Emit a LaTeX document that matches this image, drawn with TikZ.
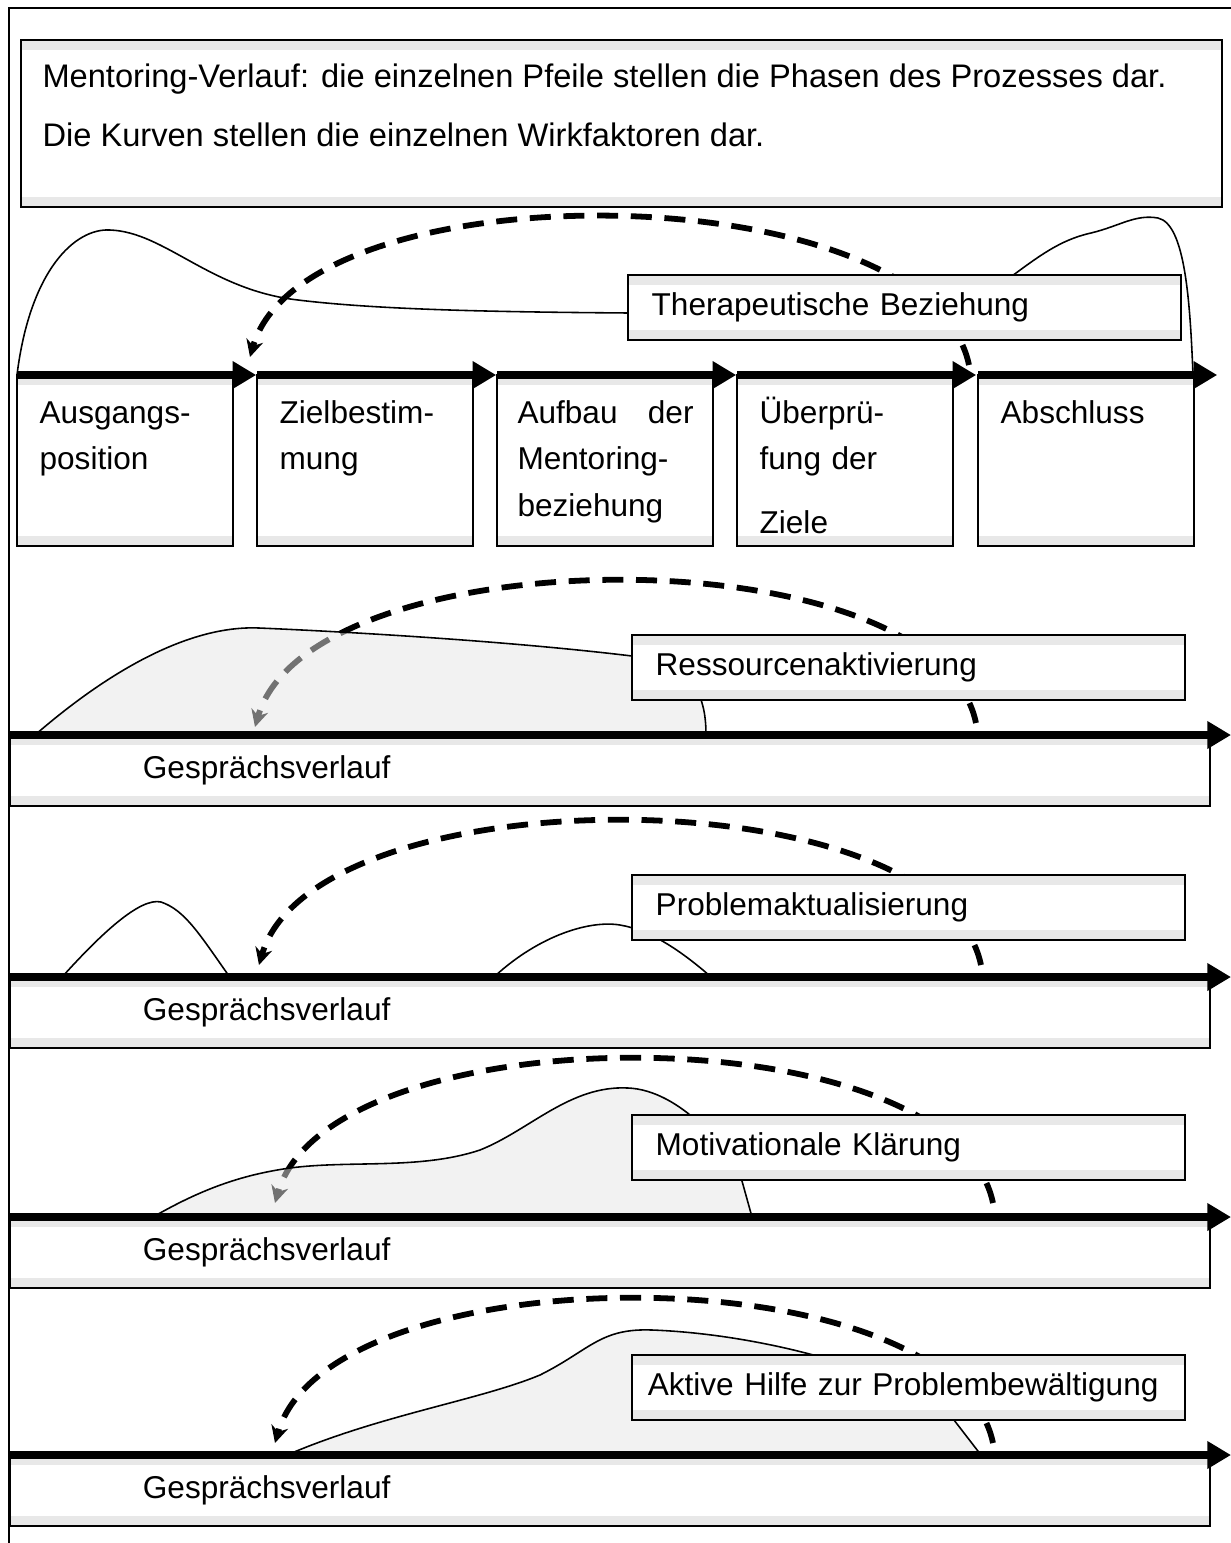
\documentclass[tikz,border=0pt]{standalone}
\usepackage{fontspec}
\setmainfont{Liberation Sans}
\usetikzlibrary{arrows.meta}

\definecolor{bandgray}{gray}{0.91}
\definecolor{hillgray}{gray}{0.9}

\tikzset{
	bandbox/.style={draw, line width=0.8pt, fill=white, inner sep=0pt, outer sep=0pt,
		path picture={
			\fill[bandgray] (path picture bounding box.north west) rectangle ([yshift=-3.8pt]path picture bounding box.north east);
			\fill[bandgray] (path picture bounding box.south west) rectangle ([yshift=3.8pt]path picture bounding box.south east);
		}},
	phasebox/.style={bandbox, anchor=north west, minimum width=82.1pt, minimum height=65pt},
	phasetext/.style={anchor=north west, inner sep=0pt, text width=66.9pt, align=left,
		font=\fontsize{12}{17.7}\selectfont, execute at begin node=\strut},
	factorbox/.style={bandbox, anchor=north west, text width=192pt, inner xsep=9pt,
		minimum height=24.7pt, align=left, font=\fontsize{12}{14}\selectfont},
	talkbox/.style={bandbox, anchor=north west, text width=355pt, inner xsep=50.5pt,
		minimum height=27pt, align=left, font=\fontsize{12}{14}\selectfont},
	phasearrow/.style={line width=3.2pt, -{Triangle[length=9pt,width=10pt]}},
	mainarrow/.style={line width=3.2pt, -{Triangle[length=9pt,width=10pt]}},
	backarc/.style={line width=2.2pt, dash pattern=on 8pt off 4.8pt, -{Stealth[length=6.5pt,width=6.5pt]}},
	hillline/.style={line width=0.6pt},
	hillfill/.style={fill=hillgray, fill opacity=0.5}
}

\newcommand{\drawbackarc}[5]{
	\coordinate (#1a) at (#2,#3);
	\coordinate (#1b) at (#4,#5);
	\draw[backarc] (#1a) .. controls (#2-40,#3-192) and (#4+55,#5-192) .. (#1b);
}
\newcommand{\drawhill}[1]{
	\fill[hillfill] #1 -- cycle;
	\draw[hillline] #1;
}
\newcommand{\drawtalk}[2]{
	\node[talkbox] (#1) at (10,#2) {Gesprächsverlauf};
	\coordinate (#1end) at (1231,#2);
	\draw[mainarrow] (#1.north west) -- (#1end);
}

\begin{document}
\begin{tikzpicture}[x=0.38pt, y=-0.38pt]
	\useasboundingbox (0,0) rectangle (1231,1543);
	\draw[line width=0.8pt] (9,1543) -- (9,8) -- (1231,8);

	% Kopf
	\node[bandbox, anchor=north west, minimum width=456.4pt, minimum height=63.5pt] (kopf) at (21,40) {};
	\node[anchor=north west, inner sep=0pt, align=left, font=\fontsize{12.4}{22.4}\selectfont,
		execute at begin node=\strut] (kopftext) at (42,63)
		{Mentoring-Verlauf: die einzelnen Pfeile stellen die Phasen des Prozesses dar.\\
		Die Kurven stellen die einzelnen Wirkfaktoren dar.};

	% Therapeutische Beziehung
	\draw[hillline] (17,375) .. controls (30,270) and (75,228) .. (110,230)
		.. controls (165,232) and (210,290) .. (298,300)
		.. controls (380,310) and (500,312) .. (630,313) -- (1000,285)
		.. controls (1040,255) and (1060,240) .. (1091,233)
		.. controls (1120,226) and (1135,214) .. (1158,218)
		.. controls (1185,224) and (1190,300) .. (1193,375);
	\drawbackarc{bogen1}{969}{365}{250}{357}
	\node[factorbox] (therapie) at (628,275) {Therapeutische Beziehung};

	% Phasen
	\foreach \nm/\x in {ausgang/17, ziel/257, aufbau/497, pruefung/737, abschluss/978} {
		\node[phasebox] (\nm) at (\x,375) {};
	}
	\foreach \nm in {ausgang, ziel, aufbau, pruefung, abschluss} {
		\draw[phasearrow] (\nm.north west) -- ([xshift=8.8pt]\nm.north east);
	}
	\node[phasetext] (ausgangtext) at ([xshift=8.4pt,yshift=-5.7pt]ausgang.north west) {Ausgangs-\\position};
	\node[phasetext] (zieltext) at ([xshift=8.4pt,yshift=-5.7pt]ziel.north west) {Zielbestim-\\mung};
	\node[phasetext] (aufbautext) at ([xshift=7.6pt,yshift=-5.7pt]aufbau.north west) {Aufbau\hskip 0pt plus 1filll der\\Mentoring-\\beziehung};
	\node[phasetext] (pruefungtext) at ([xshift=8.4pt,yshift=-5.7pt]pruefung.north west) {Überprü-\\fung der\\[6.6pt]Ziele};
	\node[phasetext] (abschlusstext) at ([xshift=8.4pt,yshift=-5.7pt]abschluss.north west) {Abschluss};

	% Ressourcenaktivierung
	\drawbackarc{bogen2}{976}{723}{255}{727}
	\drawhill{(35,735) .. controls (110,670) and (190,625) .. (259,628)
		.. controls (330,631) and (500,640) .. (632,656)
		.. controls (690,665) and (706,690) .. (706,735)}
	\node[factorbox] (ressource) at (632,635) {Ressourcenaktivierung};
	\drawtalk{verlauf2}{735}

	% Problemaktualisierung
	\drawbackarc{bogen3}{981}{965}{259}{965}
	\draw[hillline] (63,976) .. controls (100,935) and (140,897) .. (161,902)
		.. controls (185,910) and (200,935) .. (229,976);
	\draw[hillline] (495,976) .. controls (540,935) and (590,920) .. (620,925)
		.. controls (650,930) and (680,950) .. (710,976);
	\node[factorbox] (problem) at (632,875) {Problemaktualisierung};
	\drawtalk{verlauf3}{977}

	% Motivationale Klaerung
	\drawbackarc{bogen4}{993}{1203}{275}{1203}
	\drawhill{(153,1217) .. controls (200,1190) and (240,1175) .. (290,1168)
		.. controls (350,1160) and (420,1170) .. (480,1150)
		.. controls (530,1130) and (570,1085) .. (628,1088)
		.. controls (680,1090) and (730,1150) .. (742,1181) -- (752,1217)}
	\node[factorbox] (motivation) at (632,1115) {Motivationale Klärung};
	\drawtalk{verlauf4}{1217}

	% Aktive Hilfe
	\drawbackarc{bogen5}{993}{1443}{275}{1443}
	\drawhill{(287,1455) .. controls (380,1415) and (480,1400) .. (540,1375)
		.. controls (590,1350) and (600,1328) .. (652,1330)
		.. controls (760,1334) and (900,1370) .. (954,1420) -- (981,1455)}
	\node[factorbox, inner xsep=6pt, text width=198pt] (hilfe) at (632,1355) {Aktive Hilfe zur Problembewältigung};
	\drawtalk{verlauf5}{1455}
\end{tikzpicture}
\end{document}
